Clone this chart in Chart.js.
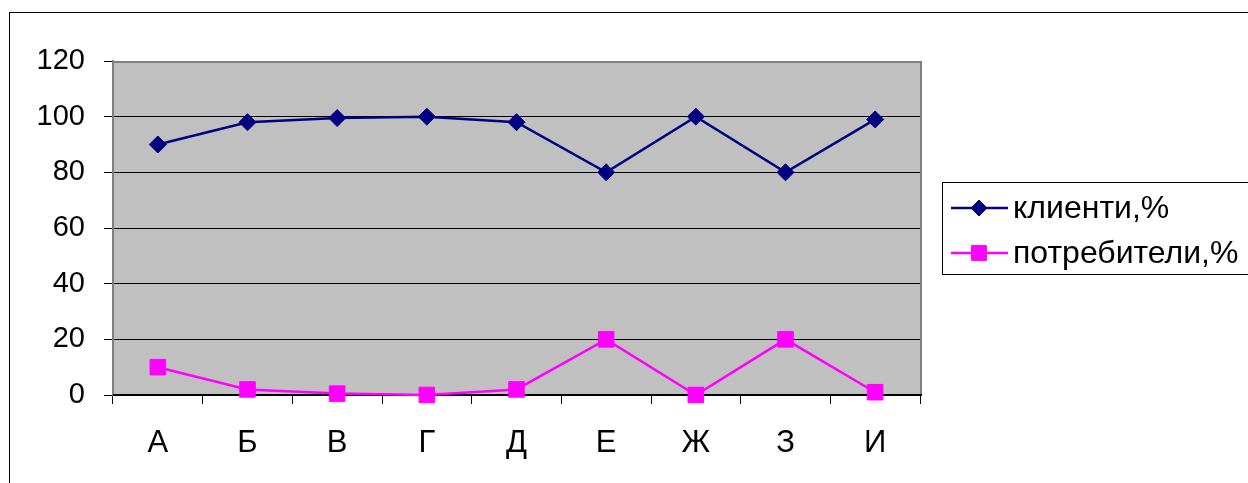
<!DOCTYPE html>
<html>
<head>
<meta charset="utf-8">
<title>клиенти / потребители</title>
<script src="https://cdn.jsdelivr.net/npm/chart.js@4/dist/chart.umd.min.js"></script>
<style>
  html, body { margin: 0; padding: 0; background: #ffffff; }
  #wrap { width: 1248px; height: 483px; position: relative; }
</style>
</head>
<body>
<div id="wrap"><canvas id="c" width="1248" height="483"></canvas></div>
<script>
// Categories along the horizontal axis
const categories = ['А', 'Б', 'В', 'Г', 'Д', 'Е', 'Ж', 'З', 'И'];
// Share of clients, %
const clients = [90, 98, 99.5, 100, 98, 80, 100, 80, 99];
// Share of consumers, %
const consumers = [10, 2, 0.5, 0, 2, 20, 0, 20, 1];
// Value axis ticks
const yTicks = [0, 20, 40, 60, 80, 100, 120];
const seriesNames = ['клиенти,%', 'потребители,%'];

const FONT = 'Liberation Sans, Arial, sans-serif';

// Grey plot area, outer frame and plot borders
const frame = {
  id: 'frame',
  beforeDraw(chart) {
    const ctx = chart.ctx;
    const a = chart.chartArea;
    ctx.save();
    ctx.fillStyle = '#ffffff';
    ctx.fillRect(0, 0, chart.width, chart.height);
    ctx.strokeStyle = '#000000';
    ctx.lineWidth = 1;
    ctx.strokeRect(9.5, 12.5, chart.width + 20, chart.height + 20);
    ctx.fillStyle = '#c0c0c0';
    ctx.fillRect(a.left, a.top, a.right - a.left, a.bottom - a.top);
    ctx.restore();
  },
  beforeDatasetsDraw(chart) {
    const ctx = chart.ctx;
    const a = chart.chartArea;
    ctx.save();
    ctx.strokeStyle = '#808080';
    ctx.lineWidth = 2;
    ctx.beginPath();
    ctx.moveTo(a.left, a.top + 1);
    ctx.lineTo(a.right + 1, a.top + 1);
    ctx.lineTo(a.right + 1, a.bottom);
    ctx.stroke();
    ctx.strokeStyle = '#000000';
    ctx.lineWidth = 2;
    ctx.beginPath();
    ctx.moveTo(a.left, a.bottom);
    ctx.lineTo(a.right + 2, a.bottom);
    ctx.stroke();
    ctx.restore();
  }
};

// Legend box to the right of the plot, built from the datasets
const sideLegend = {
  id: 'sideLegend',
  afterDraw(chart) {
    const ctx = chart.ctx;
    ctx.save();
    ctx.strokeStyle = '#000000';
    ctx.lineWidth = 1;
    ctx.strokeRect(942.5, 182.5, 400, 92);
    const rows = [208, 253];
    chart.data.datasets.forEach((ds, i) => {
      const y = rows[i];
      ctx.strokeStyle = ds.borderColor;
      ctx.lineWidth = 2.5;
      ctx.beginPath();
      ctx.moveTo(951, y);
      ctx.lineTo(1008, y);
      ctx.stroke();
      ctx.fillStyle = ds.backgroundColor;
      ctx.lineWidth = 1;
      Chart.helpers.drawPoint(ctx, {
        pointStyle: ds.pointStyle,
        radius: ds.legendRadius,
        borderWidth: 1,
        rotation: 0
      }, 979, y);
      ctx.fillStyle = '#000000';
      ctx.font = '32px ' + FONT;
      ctx.textBaseline = 'middle';
      ctx.textAlign = 'left';
      ctx.fillText(ds.label, 1013, y + 1);
    });
    ctx.restore();
  }
};

new Chart(document.getElementById('c'), {
  type: 'line',
  data: {
    labels: categories,
    datasets: [
      {
        label: seriesNames[0],
        data: clients,
        borderColor: '#000080',
        backgroundColor: '#000080',
        borderWidth: 2.5,
        pointStyle: 'rectRot',
        pointRadius: 8.5,
        legendRadius: 8,
        pointBorderWidth: 1,
        pointBackgroundColor: '#000080',
        pointBorderColor: '#000080',
        tension: 0,
        clip: false
      },
      {
        label: seriesNames[1],
        data: consumers,
        borderColor: '#ff00ff',
        backgroundColor: '#ff00ff',
        borderWidth: 2.5,
        pointStyle: 'rect',
        pointRadius: 11,
        legendRadius: 10.5,
        pointBorderWidth: 1,
        pointBackgroundColor: '#ff00ff',
        pointBorderColor: '#ff00ff',
        tension: 0,
        clip: false
      }
    ]
  },
  options: {
    responsive: false,
    animation: false,
    devicePixelRatio: 1,
    layout: { padding: { left: 0, top: 61, right: 328, bottom: 0 } },
    plugins: {
      legend: { display: false },
      tooltip: { enabled: false }
    },
    scales: {
      x: {
        offset: true,
        grid: {
          offset: true,
          drawOnChartArea: false,
          drawTicks: true,
          tickLength: 9,
          color: '#000000',
          lineWidth: 1
        },
        border: { display: true, color: '#000000', width: 1 },
        ticks: {
          color: '#000000',
          font: { family: FONT, size: 31 },
          padding: 21,
          maxRotation: 0
        },
        afterFit(scale) { scale.height = 88; }
      },
      y: {
        min: 0,
        max: 120,
        afterBuildTicks(scale) { scale.ticks = yTicks.map(v => ({ value: v })); },
        grid: {
          drawTicks: true,
          tickLength: 9,
          color: '#000000',
          lineWidth: 1
        },
        border: { display: true, color: '#808080', width: 2 },
        ticks: {
          color: '#000000',
          font: { family: FONT, size: 29 },
          padding: 19
        },
        afterFit(scale) { scale.width = 113; }
      }
    }
  },
  plugins: [frame, sideLegend]
});
</script>
</body>
</html>
